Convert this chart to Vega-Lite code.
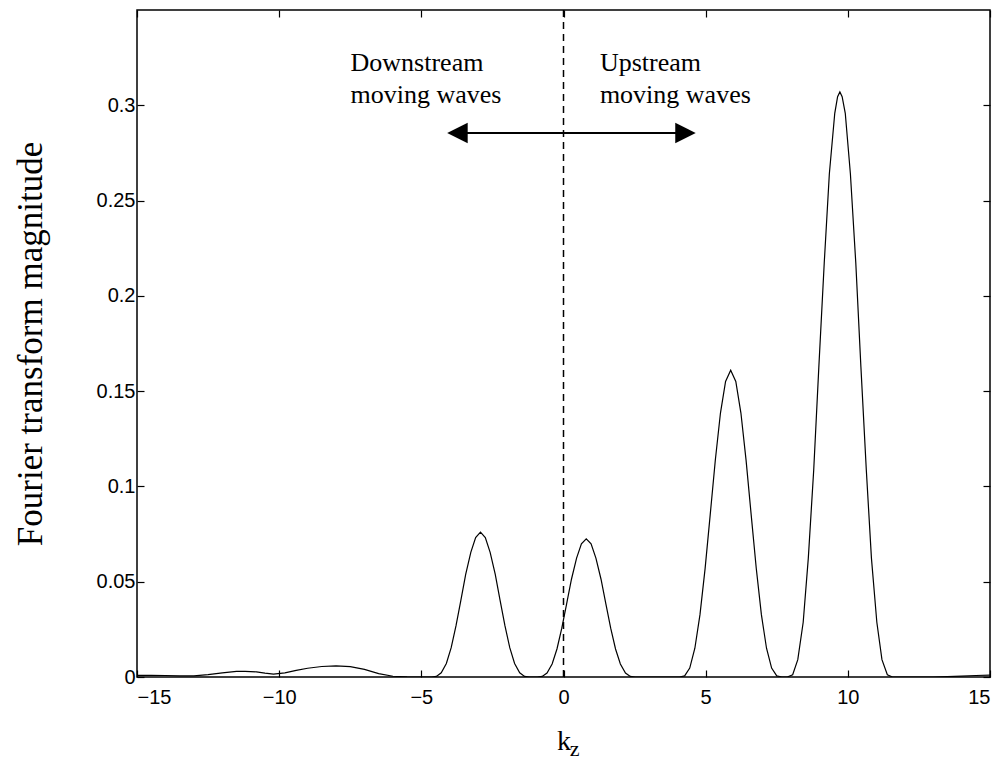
{
  "$schema": "https://vega.github.io/schema/vega-lite/v6.json",
  "width": 853,
  "height": 667,
  "autosize": {"type": "none"},
  "padding": {"left": 137, "top": 10, "right": 17, "bottom": 82},
  "background": "white",
  "config": {
    "view": {"stroke": "black", "strokeWidth": 1.5},
    "axis": {
      "grid": false,
      "domain": false,
      "ticks": true,
      "tickColor": "black",
      "tickSize": -7,
      "tickWidth": 1.2,
      "labelColor": "black",
      "labelFont": "Liberation Sans",
      "labelFontSize": 20,
      "titleColor": "black",
      "titleFont": "Liberation Serif",
      "titleFontWeight": "normal"
    }
  },
  "datasets": {
    "curve": [
      {"k": -15, "m": 0.0008}, {"k": -14.5, "m": 0.0009}, {"k": -14, "m": 0.0008}, {"k": -13.5, "m": 0.0006},
      {"k": -13, "m": 0.0006}, {"k": -12.5, "m": 0.0012}, {"k": -12, "m": 0.0022}, {"k": -11.5, "m": 0.0029},
      {"k": -11.2, "m": 0.003}, {"k": -10.8, "m": 0.0027}, {"k": -10.5, "m": 0.002}, {"k": -10.2, "m": 0.0015},
      {"k": -9.8, "m": 0.0022}, {"k": -9.4, "m": 0.0035}, {"k": -9, "m": 0.0046}, {"k": -8.5, "m": 0.0055},
      {"k": -8, "m": 0.0058}, {"k": -7.5, "m": 0.0054}, {"k": -7, "m": 0.004}, {"k": -6.5, "m": 0.0018},
      {"k": -6, "m": 0.0004}, {"k": -5.5, "m": 0.0001}, {"k": -5, "m": 0},
      {"k": -4.64, "m": 0}, {"k": -4.47, "m": 0.0003}, {"k": -4.30, "m": 0.0022}, {"k": -4.12, "m": 0.0071},
      {"k": -3.95, "m": 0.0154}, {"k": -3.78, "m": 0.0269}, {"k": -3.61, "m": 0.0402}, {"k": -3.44, "m": 0.0538},
      {"k": -3.26, "m": 0.0654}, {"k": -3.09, "m": 0.0732}, {"k": -2.92, "m": 0.076}, {"k": -2.75, "m": 0.0732},
      {"k": -2.58, "m": 0.0654}, {"k": -2.40, "m": 0.0538}, {"k": -2.23, "m": 0.0402}, {"k": -2.06, "m": 0.0269},
      {"k": -1.89, "m": 0.0154}, {"k": -1.72, "m": 0.0071}, {"k": -1.54, "m": 0.0022}, {"k": -1.37, "m": 0.0003},
      {"k": -1.20, "m": 0},
      {"k": -0.92, "m": 0}, {"k": -0.75, "m": 0.0003}, {"k": -0.58, "m": 0.0021}, {"k": -0.40, "m": 0.0068},
      {"k": -0.23, "m": 0.0147}, {"k": -0.06, "m": 0.0256}, {"k": 0.11, "m": 0.0384}, {"k": 0.28, "m": 0.0513},
      {"k": 0.46, "m": 0.0624}, {"k": 0.63, "m": 0.0699}, {"k": 0.80, "m": 0.0725}, {"k": 0.97, "m": 0.0699},
      {"k": 1.14, "m": 0.0624}, {"k": 1.32, "m": 0.0513}, {"k": 1.49, "m": 0.0384}, {"k": 1.66, "m": 0.0256},
      {"k": 1.83, "m": 0.0147}, {"k": 2.00, "m": 0.0068}, {"k": 2.18, "m": 0.0021}, {"k": 2.35, "m": 0.0003},
      {"k": 2.52, "m": 0}, {"k": 3.0, "m": 0}, {"k": 3.5, "m": 0},
      {"k": 4.08, "m": 0}, {"k": 4.26, "m": 0.0006}, {"k": 4.44, "m": 0.0047}, {"k": 4.62, "m": 0.0151},
      {"k": 4.80, "m": 0.0327}, {"k": 4.98, "m": 0.0569}, {"k": 5.16, "m": 0.0852}, {"k": 5.34, "m": 0.1139},
      {"k": 5.52, "m": 0.1385}, {"k": 5.70, "m": 0.1551}, {"k": 5.88, "m": 0.161}, {"k": 6.06, "m": 0.1551},
      {"k": 6.24, "m": 0.1385}, {"k": 6.42, "m": 0.1139}, {"k": 6.60, "m": 0.0852}, {"k": 6.78, "m": 0.0569},
      {"k": 6.96, "m": 0.0327}, {"k": 7.14, "m": 0.0151}, {"k": 7.32, "m": 0.0047}, {"k": 7.50, "m": 0.0006},
      {"k": 7.68, "m": 0},
      {"k": 7.87, "m": 0}, {"k": 8.06, "m": 0.0012}, {"k": 8.24, "m": 0.0091}, {"k": 8.43, "m": 0.0287},
      {"k": 8.61, "m": 0.0624}, {"k": 8.80, "m": 0.1086}, {"k": 8.98, "m": 0.1626}, {"k": 9.17, "m": 0.2172},
      {"k": 9.35, "m": 0.2641}, {"k": 9.54, "m": 0.2958}, {"k": 9.64, "m": 0.3045}, {"k": 9.72, "m": 0.307},
      {"k": 9.80, "m": 0.3045}, {"k": 9.91, "m": 0.2958},
      {"k": 10.09, "m": 0.2641}, {"k": 10.28, "m": 0.2172}, {"k": 10.46, "m": 0.1626}, {"k": 10.65, "m": 0.1086},
      {"k": 10.83, "m": 0.0624}, {"k": 11.02, "m": 0.0287}, {"k": 11.20, "m": 0.0091}, {"k": 11.39, "m": 0.0012},
      {"k": 11.57, "m": 0},
      {"k": 12, "m": 0}, {"k": 12.5, "m": 0}, {"k": 13, "m": 0}, {"k": 13.5, "m": 0.0002},
      {"k": 14, "m": 0.0005}, {"k": 14.5, "m": 0.0008}, {"k": 15, "m": 0.001}
    ],
    "divider": [{"k": 0, "m0": 0, "m1": 0.35}],
    "labels": [
      {"k": -7.49, "m": 0.318, "label": "Downstream"},
      {"k": -7.49, "m": 0.3012, "label": "moving waves"},
      {"k": 1.28, "m": 0.318, "label": "Upstream"},
      {"k": 1.28, "m": 0.3012, "label": "moving waves"}
    ],
    "arrow": [{"k0": -3.73, "k1": 4.29, "m": 0.2855}],
    "heads": [
      {"k": -3.73, "m": 0.2855, "dir": "left"},
      {"k": 4.29, "m": 0.2855, "dir": "right"}
    ],
    "sub": [{"k": 0.22, "m": -0.0414, "label": "z"}]
  },
  "layer": [
    {
      "data": {"name": "curve"},
      "mark": {"type": "line", "color": "black", "strokeWidth": 1.2, "clip": true},
      "encoding": {
        "x": {
          "field": "k", "type": "quantitative",
          "scale": {"domain": [-15, 15], "nice": false, "zero": false},
          "axis": {"orient": "bottom", "values": [-15, -10, -5, 0, 5, 10, 15], "labelPadding": 17, "title": "k", "titleFontSize": 28, "titlePadding": 20}
        },
        "y": {
          "field": "m", "type": "quantitative",
          "scale": {"domain": [0, 0.35], "nice": false},
          "axis": {"orient": "left", "values": [0, 0.05, 0.1, 0.15, 0.2, 0.25, 0.3], "format": "~g", "labelPadding": 9, "title": "Fourier transform magnitude", "titleFontSize": 35, "titlePadding": 48}
        }
      }
    },
    {
      "data": {"name": "divider"},
      "mark": {"type": "rule", "color": "black", "strokeWidth": 1.5, "strokeDash": [7, 5]},
      "encoding": {
        "x": {"field": "k", "type": "quantitative", "axis": {"orient": "top", "values": [-15, -10, -5, 0, 5, 10, 15], "labels": false, "ticks": true, "title": null}},
        "y": {"field": "m0", "type": "quantitative", "axis": {"orient": "right", "values": [0, 0.05, 0.1, 0.15, 0.2, 0.25, 0.3], "labels": false, "ticks": true, "title": null}},
        "y2": {"field": "m1"}
      }
    },
    {
      "data": {"name": "labels"},
      "mark": {"type": "text", "align": "left", "baseline": "alphabetic", "font": "Liberation Serif", "fontSize": 26, "color": "black"},
      "encoding": {
        "x": {"field": "k", "type": "quantitative", "axis": null},
        "y": {"field": "m", "type": "quantitative", "axis": null},
        "text": {"field": "label"}
      }
    },
    {
      "data": {"name": "arrow"},
      "mark": {"type": "rule", "color": "black", "strokeWidth": 2},
      "encoding": {
        "x": {"field": "k0", "type": "quantitative", "axis": null},
        "x2": {"field": "k1"},
        "y": {"field": "m", "type": "quantitative", "axis": null}
      }
    },
    {
      "data": {"name": "heads"},
      "mark": {"type": "point", "filled": true, "color": "black", "opacity": 1, "size": 420},
      "encoding": {
        "x": {"field": "k", "type": "quantitative", "axis": null},
        "y": {"field": "m", "type": "quantitative", "axis": null},
        "shape": {"field": "dir", "type": "nominal", "scale": {"domain": ["left", "right"], "range": ["M-1,0L1,-1L1,1Z", "M1,0L-1,-1L-1,1Z"]}, "legend": null}
      }
    },
    {
      "data": {"name": "sub"},
      "mark": {"type": "text", "align": "left", "baseline": "alphabetic", "font": "Liberation Serif", "fontSize": 22, "color": "black"},
      "encoding": {
        "x": {"field": "k", "type": "quantitative", "axis": null},
        "y": {"field": "m", "type": "quantitative", "axis": null},
        "text": {"field": "label"}
      }
    }
  ],
  "resolve": {"axis": {"x": "independent", "y": "independent"}}
}
